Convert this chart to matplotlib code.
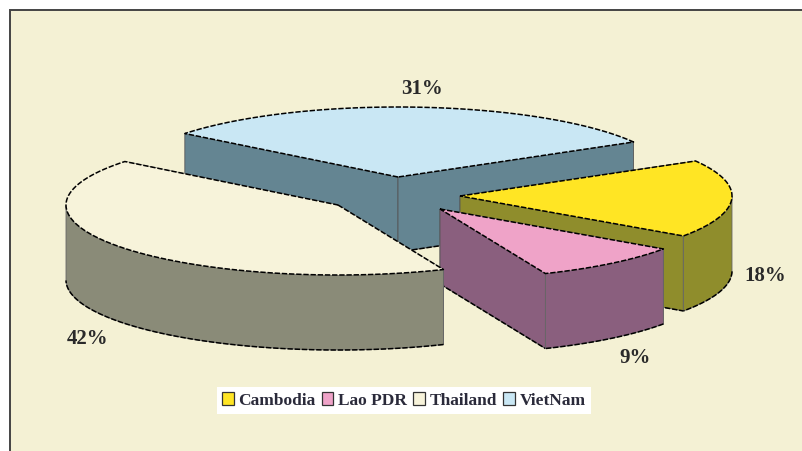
import numpy as np
import matplotlib
matplotlib.use("Agg")
import matplotlib.pyplot as plt
from matplotlib.patches import Polygon, Patch, Rectangle

categories = ["Cambodia", "Lao PDR", "Thailand", "VietNam"]
shares = [18, 9, 42, 31]
pct_labels = ["18%", "9%", "42%", "31%"]

top_colors = ["#FFE524", "#EFA3C8", "#F7F3DA", "#C9E7F4"]
wall_colors = ["#8F8D2C", "#8A5F7E", "#8A8B78", "#648592"]
apexes = [(460, 196), (440, 209), (338, 205), (398, 177)]
label_pos = [(765, 276), (635, 358), (88, 339), (422, 89)]
draw_order = [3, 0, 1, 2]

RX, RY, DEPTH = 272, 70, 75
START = 30
BG = "#F4F1D4"
DASH = (0, (3.5, 1.2))

fig = plt.figure(figsize=(8.03, 4.51), dpi=100, facecolor="white")
ax = fig.add_axes([0, 0, 1, 1])
ax.set_xlim(0, 803)
ax.set_ylim(451, 0)
ax.axis("off")

ax.add_patch(Rectangle((10, 10), 800, 450, fc=BG, ec="#444444", lw=1.4, zorder=0))


def point(apex, deg):
    t = np.radians(deg)
    return apex[0] + RX * np.cos(t), apex[1] - RY * np.sin(t)


def arc(apex, a, b):
    t = np.radians(np.linspace(a, b, 80))
    return np.column_stack([apex[0] + RX * np.cos(t), apex[1] - RY * np.sin(t)])


# clockwise slice angles derived from the shares
spans = np.array(shares) / sum(shares) * 360
ends = START - np.cumsum(spans)
starts = ends + spans

z = 1
for i in draw_order:
    apex, a, b = apexes[i], starts[i], ends[i]
    wall, top = wall_colors[i], top_colors[i]

    # radial faces, back one first
    for deg in sorted([a, b], key=lambda d: -np.sin(np.radians(d))):
        p = point(apex, deg)
        face = [apex, p, (p[0], p[1] + DEPTH), (apex[0], apex[1] + DEPTH)]
        ax.add_patch(Polygon(face, fc=wall, ec="#555555", lw=0.6, zorder=z))
        z += 1
        ax.plot([apex[0], p[0]], [apex[1] + DEPTH, p[1] + DEPTH], color="black",
                lw=1.1, ls=DASH, zorder=z)
        z += 1

    # outer wall: only the part of the rim that faces the viewer
    deg_grid = np.linspace(a, b, 200)
    vis = deg_grid[np.sin(np.radians(deg_grid)) <= 0]
    if len(vis) > 1:
        rim = arc(apex, vis[0], vis[-1])
        low = rim + [0, DEPTH]
        ax.add_patch(Polygon(np.vstack([rim, low[::-1]]), fc=wall, ec="#666666",
                             lw=0.6, zorder=z))
        z += 1
        ax.plot(low[:, 0], low[:, 1], color="black", lw=1.1, ls=DASH, zorder=z)
        z += 1

    # top face
    rim = arc(apex, a, b)
    outline = np.vstack([[apex], rim, [apex]])
    ax.add_patch(Polygon(outline, fc=top, ec="none", zorder=z))
    z += 1
    ax.plot(outline[:, 0], outline[:, 1], color="black", lw=1.1, ls=DASH, zorder=z)
    z += 1

for (x, y), s in zip(label_pos, pct_labels):
    ax.text(x, y, s, ha="center", va="center", family="Liberation Serif",
            weight="bold", fontsize=15, color="#2A2A2A", zorder=z)

handles = [Patch(fc=c, ec="#333333", lw=0.9) for c in top_colors]
leg = ax.legend(handles, categories, ncol=4, loc="center", bbox_to_anchor=(404 / 803, 1 - 400.5 / 451),
                prop={"family": "Liberation Serif", "weight": "bold", "size": 12.5},
                frameon=True, framealpha=1, facecolor="white", edgecolor="none",
                fancybox=False, handlelength=0.68, handleheight=0.8, handletextpad=0.28,
                columnspacing=0.34, borderpad=0.3, borderaxespad=0)
leg.set_zorder(z)
for t in leg.get_texts():
    t.set_color("#2A2A3A")

fig.savefig("out.png", dpi=100, facecolor="white")
